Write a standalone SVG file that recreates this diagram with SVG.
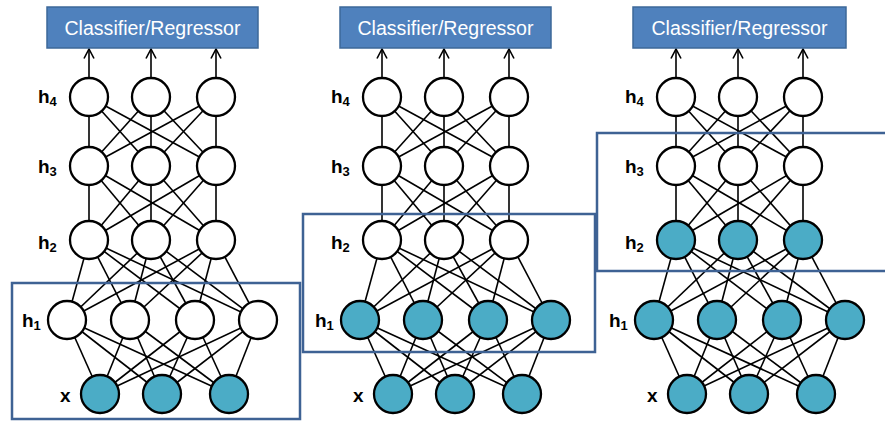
<svg xmlns="http://www.w3.org/2000/svg" xmlns:xlink="http://www.w3.org/1999/xlink" width="885" height="421" viewBox="0 0 885 421">
  <style>
    .bg { fill: #ffffff; }
    .link { stroke: #000000; stroke-width: 1.6; fill: none; }
    .arrow { stroke: #000000; stroke-width: 1.6; fill: none; }
    .n { fill: #ffffff; stroke: #000000; stroke-width: 2.3; }
    .n.on { fill: #4bacc6; }
    .head { fill: #4f81bd; stroke: #3d6899; stroke-width: 1.5; }
    .head-text { font-family: "Liberation Sans", Arial, sans-serif; font-size: 20px; fill: #ffffff; }
    .lbl { font-family: "Liberation Sans", Arial, sans-serif; font-weight: bold; font-size: 19px; fill: #000000; }
    .sub { font-size: 13px; }
    .frame { fill: none; stroke: #3e6294; stroke-width: 2.5; }
  </style>
  <defs>
    <marker id="chev" viewBox="0 0 12 12" refX="10.5" refY="6" markerWidth="12" markerHeight="12" markerUnits="userSpaceOnUse" orient="auto">
      <path d="M1,1 L10.5,6 L1,11" fill="none" stroke="#000000" stroke-width="1.6"/>
    </marker>
    <!-- fully connected layers, panel-local coordinates -->
    <g id="links">
      <!-- h4 to h3 -->
      <line class="link" x1="89" y1="97" x2="89" y2="166"/>
      <line class="link" x1="89" y1="97" x2="151" y2="166"/>
      <line class="link" x1="89" y1="97" x2="216" y2="166"/>
      <line class="link" x1="151" y1="97" x2="89" y2="166"/>
      <line class="link" x1="151" y1="97" x2="151" y2="166"/>
      <line class="link" x1="151" y1="97" x2="216" y2="166"/>
      <line class="link" x1="216" y1="97" x2="89" y2="166"/>
      <line class="link" x1="216" y1="97" x2="151" y2="166"/>
      <line class="link" x1="216" y1="97" x2="216" y2="166"/>
      <!-- h3 to h2 -->
      <line class="link" x1="89" y1="166" x2="89" y2="240"/>
      <line class="link" x1="89" y1="166" x2="151" y2="240"/>
      <line class="link" x1="89" y1="166" x2="216" y2="240"/>
      <line class="link" x1="151" y1="166" x2="89" y2="240"/>
      <line class="link" x1="151" y1="166" x2="151" y2="240"/>
      <line class="link" x1="151" y1="166" x2="216" y2="240"/>
      <line class="link" x1="216" y1="166" x2="89" y2="240"/>
      <line class="link" x1="216" y1="166" x2="151" y2="240"/>
      <line class="link" x1="216" y1="166" x2="216" y2="240"/>
      <!-- h2 to h1 -->
      <line class="link" x1="89" y1="240" x2="67" y2="320"/>
      <line class="link" x1="89" y1="240" x2="130" y2="320"/>
      <line class="link" x1="89" y1="240" x2="195" y2="320"/>
      <line class="link" x1="89" y1="240" x2="258" y2="320"/>
      <line class="link" x1="151" y1="240" x2="67" y2="320"/>
      <line class="link" x1="151" y1="240" x2="130" y2="320"/>
      <line class="link" x1="151" y1="240" x2="195" y2="320"/>
      <line class="link" x1="151" y1="240" x2="258" y2="320"/>
      <line class="link" x1="216" y1="240" x2="67" y2="320"/>
      <line class="link" x1="216" y1="240" x2="130" y2="320"/>
      <line class="link" x1="216" y1="240" x2="195" y2="320"/>
      <line class="link" x1="216" y1="240" x2="258" y2="320"/>
      <!-- h1 to x -->
      <line class="link" x1="67" y1="320" x2="100" y2="394"/>
      <line class="link" x1="67" y1="320" x2="162" y2="394"/>
      <line class="link" x1="67" y1="320" x2="229" y2="394"/>
      <line class="link" x1="130" y1="320" x2="100" y2="394"/>
      <line class="link" x1="130" y1="320" x2="162" y2="394"/>
      <line class="link" x1="130" y1="320" x2="229" y2="394"/>
      <line class="link" x1="195" y1="320" x2="100" y2="394"/>
      <line class="link" x1="195" y1="320" x2="162" y2="394"/>
      <line class="link" x1="195" y1="320" x2="229" y2="394"/>
      <line class="link" x1="258" y1="320" x2="100" y2="394"/>
      <line class="link" x1="258" y1="320" x2="162" y2="394"/>
      <line class="link" x1="258" y1="320" x2="229" y2="394"/>
      <!-- top layer to classifier -->
      <line class="arrow" x1="89" y1="77" x2="89" y2="49" marker-end="url(#chev)"/>
      <line class="arrow" x1="151" y1="77" x2="151" y2="49" marker-end="url(#chev)"/>
      <line class="arrow" x1="216" y1="77" x2="216" y2="49" marker-end="url(#chev)"/>
    </g>
    <!-- layer labels -->
    <g id="labels">
      <text class="lbl" x="38" y="103">h<tspan class="sub" dy="3">4</tspan></text>
      <text class="lbl" x="38" y="173">h<tspan class="sub" dy="3">3</tspan></text>
      <text class="lbl" x="38" y="249">h<tspan class="sub" dy="3">2</tspan></text>
      <text class="lbl" x="22" y="327">h<tspan class="sub" dy="3">1</tspan></text>
      <text class="lbl" x="60" y="402">x</text>
    </g>
  </defs>

  <rect class="bg" x="0" y="0" width="885" height="421"/>

  <g id="connectors">
    <use xlink:href="#links"/>
    <use xlink:href="#links" transform="translate(293,0)"/>
    <use xlink:href="#links" transform="translate(587,0)"/>
  </g>

  <!-- panel 1: only the input layer is trained -->
  <g id="panel1">
    <g id="p1-head">
      <rect class="head" x="47" y="7" width="211" height="41"/>
      <text class="head-text" x="152.5" y="35" text-anchor="middle" textLength="176" lengthAdjust="spacingAndGlyphs">Classifier/Regressor</text>
    </g>
    <use xlink:href="#labels"/>
    <g id="p1-h4-1"><circle class="n" cx="89" cy="97" r="19"/></g>
    <g id="p1-h4-2"><circle class="n" cx="151" cy="97" r="19"/></g>
    <g id="p1-h4-3"><circle class="n" cx="216" cy="97" r="19"/></g>
    <g id="p1-h3-1"><circle class="n" cx="89" cy="166" r="19"/></g>
    <g id="p1-h3-2"><circle class="n" cx="151" cy="166" r="19"/></g>
    <g id="p1-h3-3"><circle class="n" cx="216" cy="166" r="19"/></g>
    <g id="p1-h2-1"><circle class="n" cx="89" cy="240" r="19"/></g>
    <g id="p1-h2-2"><circle class="n" cx="151" cy="240" r="19"/></g>
    <g id="p1-h2-3"><circle class="n" cx="216" cy="240" r="19"/></g>
    <g id="p1-h1-1"><circle class="n" cx="67" cy="320" r="19"/></g>
    <g id="p1-h1-2"><circle class="n" cx="130" cy="320" r="19"/></g>
    <g id="p1-h1-3"><circle class="n" cx="195" cy="320" r="19"/></g>
    <g id="p1-h1-4"><circle class="n" cx="258" cy="320" r="19"/></g>
    <g id="p1-x-1"><circle class="n on" cx="100" cy="394" r="19"/></g>
    <g id="p1-x-2"><circle class="n on" cx="162" cy="394" r="19"/></g>
    <g id="p1-x-3"><circle class="n on" cx="229" cy="394" r="19"/></g>
  </g>

  <!-- panel 2: input and h1 filled -->
  <g id="panel2" transform="translate(293,0)">
    <g id="p2-head">
      <rect class="head" x="47" y="7" width="211" height="41"/>
      <text class="head-text" x="152.5" y="35" text-anchor="middle" textLength="176" lengthAdjust="spacingAndGlyphs">Classifier/Regressor</text>
    </g>
    <use xlink:href="#labels"/>
    <g id="p2-h4-1"><circle class="n" cx="89" cy="97" r="19"/></g>
    <g id="p2-h4-2"><circle class="n" cx="151" cy="97" r="19"/></g>
    <g id="p2-h4-3"><circle class="n" cx="216" cy="97" r="19"/></g>
    <g id="p2-h3-1"><circle class="n" cx="89" cy="166" r="19"/></g>
    <g id="p2-h3-2"><circle class="n" cx="151" cy="166" r="19"/></g>
    <g id="p2-h3-3"><circle class="n" cx="216" cy="166" r="19"/></g>
    <g id="p2-h2-1"><circle class="n" cx="89" cy="240" r="19"/></g>
    <g id="p2-h2-2"><circle class="n" cx="151" cy="240" r="19"/></g>
    <g id="p2-h2-3"><circle class="n" cx="216" cy="240" r="19"/></g>
    <g id="p2-h1-1"><circle class="n on" cx="67" cy="320" r="19"/></g>
    <g id="p2-h1-2"><circle class="n on" cx="130" cy="320" r="19"/></g>
    <g id="p2-h1-3"><circle class="n on" cx="195" cy="320" r="19"/></g>
    <g id="p2-h1-4"><circle class="n on" cx="258" cy="320" r="19"/></g>
    <g id="p2-x-1"><circle class="n on" cx="100" cy="394" r="19"/></g>
    <g id="p2-x-2"><circle class="n on" cx="162" cy="394" r="19"/></g>
    <g id="p2-x-3"><circle class="n on" cx="229" cy="394" r="19"/></g>
  </g>

  <!-- panel 3: input, h1 and h2 filled -->
  <g id="panel3" transform="translate(587,0)">
    <g id="p3-head">
      <rect class="head" x="46" y="7" width="213" height="41"/>
      <text class="head-text" x="152.5" y="35" text-anchor="middle" textLength="176" lengthAdjust="spacingAndGlyphs">Classifier/Regressor</text>
    </g>
    <use xlink:href="#labels"/>
    <g id="p3-h4-1"><circle class="n" cx="89" cy="97" r="19"/></g>
    <g id="p3-h4-2"><circle class="n" cx="151" cy="97" r="19"/></g>
    <g id="p3-h4-3"><circle class="n" cx="216" cy="97" r="19"/></g>
    <g id="p3-h3-1"><circle class="n" cx="89" cy="166" r="19"/></g>
    <g id="p3-h3-2"><circle class="n" cx="151" cy="166" r="19"/></g>
    <g id="p3-h3-3"><circle class="n" cx="216" cy="166" r="19"/></g>
    <g id="p3-h2-1"><circle class="n on" cx="89" cy="240" r="19"/></g>
    <g id="p3-h2-2"><circle class="n on" cx="151" cy="240" r="19"/></g>
    <g id="p3-h2-3"><circle class="n on" cx="216" cy="240" r="19"/></g>
    <g id="p3-h1-1"><circle class="n on" cx="67" cy="320" r="19"/></g>
    <g id="p3-h1-2"><circle class="n on" cx="130" cy="320" r="19"/></g>
    <g id="p3-h1-3"><circle class="n on" cx="195" cy="320" r="19"/></g>
    <g id="p3-h1-4"><circle class="n on" cx="258" cy="320" r="19"/></g>
    <g id="p3-x-1"><circle class="n on" cx="100" cy="394" r="19"/></g>
    <g id="p3-x-2"><circle class="n on" cx="162" cy="394" r="19"/></g>
    <g id="p3-x-3"><circle class="n on" cx="229" cy="394" r="19"/></g>
  </g>

  <!-- highlight frames around the layer pair being trained -->
  <g id="frames">
    <rect class="frame" x="12" y="283" width="288" height="136"/>
    <rect class="frame" x="303" y="214" width="292" height="138"/>
    <rect class="frame" x="597" y="133" width="300" height="138"/>
  </g>
</svg>
